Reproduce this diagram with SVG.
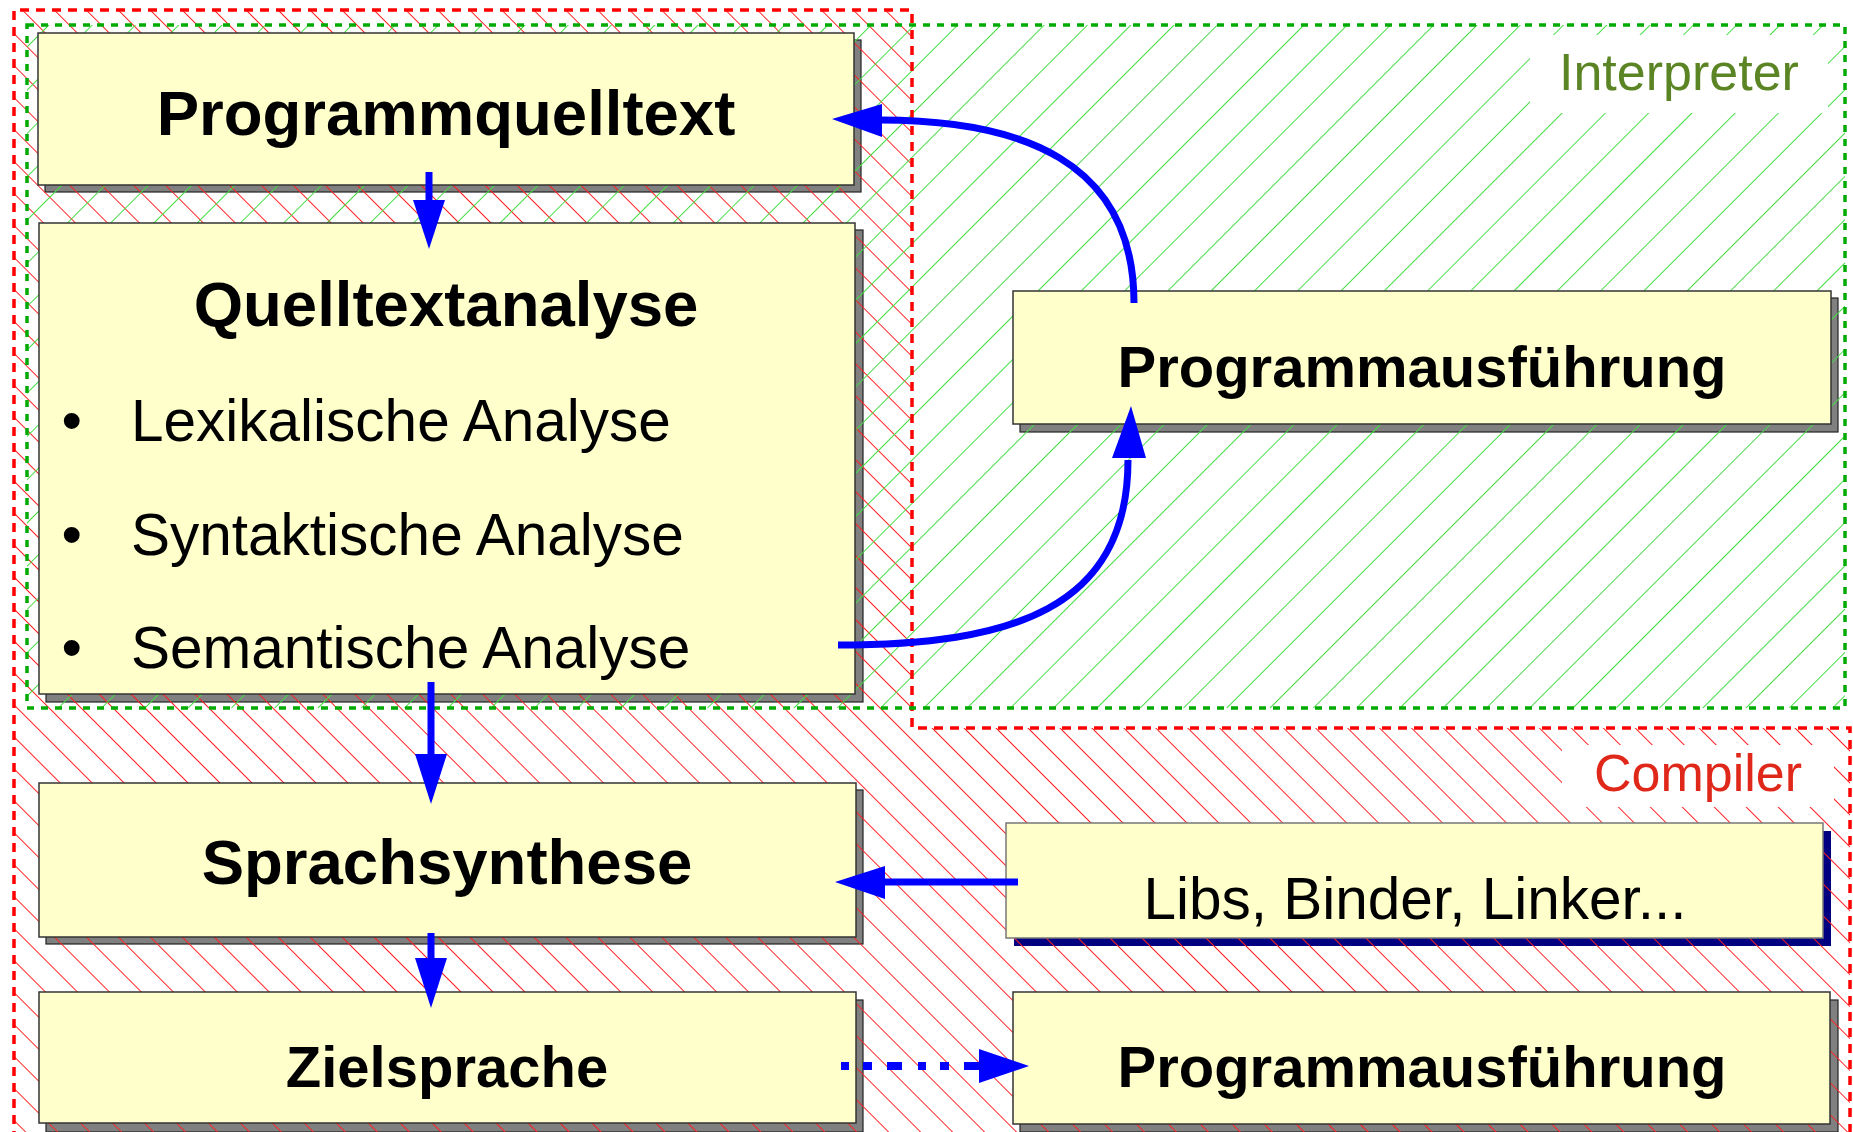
<svg xmlns="http://www.w3.org/2000/svg" width="1853" height="1132" viewBox="0 0 1853 1132">
<style>
.box{fill:#ffffcc;stroke:#333;stroke-width:1.5}
.shadow{fill:#808080;stroke:#222;stroke-width:1.2}
.title{font-family:"Liberation Sans",Arial,sans-serif;font-weight:bold;fill:#000;text-anchor:middle}
.item{font-family:"Liberation Sans",Arial,sans-serif;fill:#000;font-size:58.5px}
.conn{fill:none;stroke:#0000ff;stroke-width:7}
.head{fill:#0000ff}
</style>
<defs>
<pattern id="redHatch" patternUnits="userSpaceOnUse" width="40" height="22.6" patternTransform="translate(13,0) rotate(45)">
<line x1="0" y1="0.5" x2="40" y2="0.5" stroke="#ff2020" stroke-width="1.1"/>
</pattern>
<pattern id="greenHatch" patternUnits="userSpaceOnUse" width="40" height="30.6" patternTransform="translate(30,0) rotate(-45)">
<line x1="0" y1="0.5" x2="40" y2="0.5" stroke="#44dd44" stroke-width="1.1"/>
</pattern>
</defs>
<rect x="0" y="0" width="1853" height="1132" fill="#fff"/>
<g id="shadows">
<rect class="shadow" x="45" y="40" width="816" height="152"/>
<rect class="shadow" x="46" y="230" width="817" height="472"/>
<rect class="shadow" x="1020" y="298" width="818" height="134"/>
<rect class="shadow" x="46" y="790" width="817" height="154"/>
<rect class="shadow" x="46" y="1000" width="817" height="132"/>
<rect class="shadow" x="1020" y="1000" width="818" height="132"/>
<rect x="1014" y="831" width="817" height="115" fill="#000080"/>
</g>
<g id="regions">
<polygon points="14,10 912,10 912,728 1850,728 1850,1140 14,1140" fill="url(#redHatch)"/>
<rect x="27" y="25" width="1818" height="683" fill="url(#greenHatch)"/>
<rect x="1530" y="35" width="298" height="78" fill="#fff"/>
<rect x="1562" y="745" width="272" height="62" fill="#fff"/>
<polygon points="14,1140 14,10 912,10 912,728 1850,728 1850,1140" fill="none" stroke="#ff0000" stroke-width="3.5" stroke-dasharray="9 7"/>
<rect x="27" y="25" width="1818" height="683" fill="none" stroke="#00aa00" stroke-width="3.5" stroke-dasharray="7 7"/>
<text x="1559" y="90" font-family="'Liberation Sans',Arial,sans-serif" font-size="52" fill="#5b8524">Interpreter</text>
<text x="1594" y="791" font-family="'Liberation Sans',Arial,sans-serif" font-size="52" fill="#e0281a">Compiler</text>
</g>
<g id="node-programmquelltext">
<rect class="box" x="38" y="33" width="816" height="152"/>
<text class="title" x="446" y="135" font-size="63.5">Programmquelltext</text>
</g>
<g id="node-quelltextanalyse">
<rect class="box" x="39" y="223" width="816" height="471"/>
<text class="title" x="446" y="326" font-size="63.5">Quelltextanalyse</text>
<text class="item" x="61.5" y="441">•</text>
<text class="item" x="131" y="441">Lexikalische Analyse</text>
<text class="item" x="61.5" y="555">•</text>
<text class="item" x="131" y="555">Syntaktische Analyse</text>
<text class="item" x="61.5" y="668">•</text>
<text class="item" x="131" y="668">Semantische Analyse</text>
</g>
<g id="node-programmausfuehrung-1">
<rect class="box" x="1013" y="291" width="818" height="133"/>
<text class="title" x="1422" y="387" font-size="58">Programmausführung</text>
</g>
<g id="node-sprachsynthese">
<rect class="box" x="39" y="783" width="817" height="154"/>
<text class="title" x="447" y="884" font-size="63.5">Sprachsynthese</text>
</g>
<g id="node-libs">
<rect x="1006" y="823" width="817" height="115" fill="#ffffcc" stroke="#777" stroke-width="1.5"/>
<text x="1415" y="919" font-family="'Liberation Sans',Arial,sans-serif" font-size="58.5" text-anchor="middle">Libs, Binder, Linker...</text>
</g>
<g id="node-zielsprache">
<rect class="box" x="39" y="992" width="817" height="131"/>
<text class="title" x="447" y="1087" font-size="58">Zielsprache</text>
</g>
<g id="node-programmausfuehrung-2">
<rect class="box" x="1013" y="992" width="817" height="132"/>
<text class="title" x="1422" y="1087" font-size="58">Programmausführung</text>
</g>
<g id="connectors">
<line class="conn" x1="429" y1="172" x2="429" y2="202"/>
<polygon class="head" points="413,200 445,200 429,249"/>
<line class="conn" x1="431" y1="682" x2="431" y2="756"/>
<polygon class="head" points="415,754 447,754 431,804"/>
<line class="conn" x1="431" y1="933" x2="431" y2="960"/>
<polygon class="head" points="415,958 447,958 431,1008"/>
<line class="conn" x1="1018" y1="882" x2="883" y2="882"/>
<polygon class="head" points="885,866 885,899 835,882"/>
<line x1="841" y1="1066" x2="981" y2="1066" stroke="#0000ff" stroke-width="8" stroke-dasharray="8 14 9 15 15 16"/>
<polygon class="head" points="979,1049 979,1083 1029,1066"/>
<path class="conn" d="M838,645 C1010,645 1128,610 1128,460"/>
<polygon class="head" points="1112,458 1146,458 1131,406"/>
<path class="conn" d="M1134,303 C1134,160 1020,120 880,120"/>
<polygon class="head" points="882,104 882,137 832,119"/>
</g>
</svg>
